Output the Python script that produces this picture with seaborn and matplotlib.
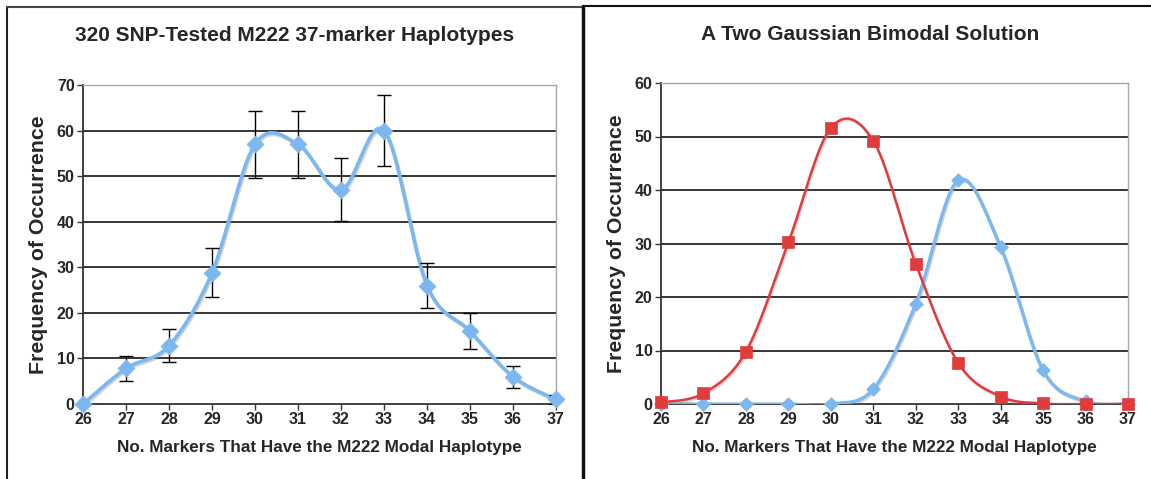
import numpy as np
import pandas as pd
import matplotlib
matplotlib.use("Agg")
import matplotlib.pyplot as plt
import matplotlib.patheffects as pe
from matplotlib.lines import Line2D
import seaborn as sns

# ---------------- data ----------------
markers_x = [26, 27, 28, 29, 30, 31, 32, 33, 34, 35, 36, 37]
observed = [0, 7.8, 12.8, 28.8, 57, 57, 47, 60, 26, 16, 6, 1]
observed_err = [0, 2.8, 3.6, 5.4, 7.4, 7.4, 6.9, 7.7, 5.0, 4.0, 2.4, 1.0]
gauss_low = [0.3, 2.0, 9.8, 30.2, 51.6, 49.2, 26.2, 7.7, 1.4, 0.1, 0.0, 0.0]
gauss_high = [0, 0, 0, 0, 0, 2.8, 18.7, 41.8, 29.3, 6.3, 0.5, 0]

left_title = "320 SNP-Tested M222 37-marker Haplotypes"
right_title = "A Two Gaussian Bimodal Solution"
x_label = "No. Markers That Have the M222 Modal Haplotype"
y_label = "Frequency of Occurrence"

BLUE = "#7cb8ef"
RED = "#e03c3c"
FONT = ["Liberation Sans", "DejaVu Sans"]


def smooth(xs, ys, n=40):
    """Catmull-Rom curve through the points (like a spreadsheet 'smoothed line')."""
    p = np.column_stack([xs, ys]).astype(float)
    p = np.vstack([p[0], p, p[-1]])
    out = []
    t = np.linspace(0, 1, n, endpoint=False)[:, None]
    for i in range(1, len(p) - 2):
        p0, p1, p2, p3 = p[i - 1], p[i], p[i + 1], p[i + 2]
        seg = 0.5 * ((2 * p1) + (-p0 + p2) * t + (2 * p0 - 5 * p1 + 4 * p2 - p3) * t ** 2
                     + (-p0 + 3 * p1 - 3 * p2 + p3) * t ** 3)
        out.append(seg)
    out.append(p[-2][None, :])
    arr = np.vstack(out)
    return pd.DataFrame({"x": arr[:, 0], "y": arr[:, 1]})


sns.set_theme(style="white")
plt.rcParams["font.family"] = FONT
plt.rcParams["font.weight"] = "bold"

W, H = 1151, 479
fig = plt.figure(figsize=(W / 100, H / 100), dpi=100)

TITLE_FS = 15
XLAB_FS = 12.3
YLAB_FS = 15.3
TICK_FS = 11.5


def px_axes(left, right, top, bottom):
    return fig.add_axes([left / W, 1 - bottom / H, (right - left) / W, (bottom - top) / H])


def style_axes(ax, ymax):
    ax.set_xlim(26, 37)
    ax.set_ylim(0, ymax)
    ax.set_xticks(markers_x)
    ax.set_xticklabels([str(v) for v in markers_x])
    ax.set_yticks(np.arange(0, ymax + 1, 10))
    ax.grid(False)
    for v in np.arange(10, ymax + 1, 10):
        if v < ymax:
            ax.axhline(v, color="black", lw=1.1, zorder=1)
    for s in ["top", "right"]:
        ax.spines[s].set_color("#a8a8a8")
        ax.spines[s].set_linewidth(1.0)
    for s in ["left", "bottom"]:
        ax.spines[s].set_color("#333333")
        ax.spines[s].set_linewidth(1.3)
    ax.tick_params(axis="both", which="major", direction="out", length=4, width=1,
                   color="#333333", labelsize=TICK_FS, pad=2, bottom=True, left=True)
    for lab in ax.get_xticklabels() + ax.get_yticklabels():
        lab.set_fontweight("bold")
        lab.set_family(FONT)
    ax.set_facecolor("white")


def labels(ax, title, pad, tx):
    ax.set_xlabel(x_label, fontsize=XLAB_FS, fontweight="bold", labelpad=9)
    ax.set_ylabel(y_label, fontsize=YLAB_FS, fontweight="bold", labelpad=6)
    ax.set_title(title, fontsize=TITLE_FS, fontweight="bold", pad=pad, x=tx)


shadow = [pe.SimpleLineShadow(offset=(0.8, -1.2), shadow_color="#888888", alpha=0.35), pe.Normal()]

# ---------------- left chart ----------------
ax1 = px_axes(83, 556, 85, 404)
style_axes(ax1, 70)
curve = smooth(markers_x, observed)
sns.lineplot(data=curve, x="x", y="y", ax=ax1, color=BLUE, lw=2.6, sort=False,
             estimator=None, zorder=3, path_effects=shadow)
ax1.errorbar(markers_x, observed, yerr=observed_err, fmt="none", ecolor="black",
             elinewidth=1.0, capsize=5, capthick=1.0, zorder=4)
pts = pd.DataFrame({"x": markers_x, "y": observed})
sns.scatterplot(data=pts, x="x", y="y", ax=ax1, marker="D", s=75, color=BLUE,
                edgecolor=BLUE, linewidth=0.5, zorder=5, clip_on=False)
labels(ax1, left_title, 32, 0.448)

# ---------------- right chart ----------------
ax2 = px_axes(661, 1128, 83, 404)
style_axes(ax2, 60)
c_high = smooth(markers_x, gauss_high)
c_low = smooth(markers_x, gauss_low)
sns.lineplot(data=c_high, x="x", y="y", ax=ax2, color=BLUE, lw=2.4, sort=False,
             estimator=None, zorder=3, path_effects=shadow)
pts_h = pd.DataFrame({"x": markers_x, "y": gauss_high})
sns.scatterplot(data=pts_h, x="x", y="y", ax=ax2, marker="D", s=50, color=BLUE,
                edgecolor=BLUE, linewidth=0.5, zorder=4, clip_on=False)
sns.lineplot(data=c_low, x="x", y="y", ax=ax2, color=RED, lw=1.8, sort=False,
             estimator=None, zorder=5, path_effects=shadow)
pts_l = pd.DataFrame({"x": markers_x, "y": gauss_low})
sns.scatterplot(data=pts_l, x="x", y="y", ax=ax2, marker="s", s=75, color=RED,
                edgecolor=RED, linewidth=0.5, zorder=6, clip_on=False)
labels(ax2, right_title, 31, 0.4475)

# ---------------- panel frames ----------------
def fline(x0, y0, x1, y1, lw, color):
    fig.add_artist(Line2D([x0 / W, x1 / W], [1 - y0 / H, 1 - y1 / H], lw=lw, color=color,
                          transform=fig.transFigure))

fline(7, 7, 7, 479, 1.5, "#222222")
fline(7, 7, 583, 7, 1.5, "#444444")
fline(583, 6, 583, 479, 2.5, "#111111")
fline(583, 5.5, 1151, 5.5, 1.5, "#111111")

fig.savefig("out.png", dpi=100, facecolor="white")
